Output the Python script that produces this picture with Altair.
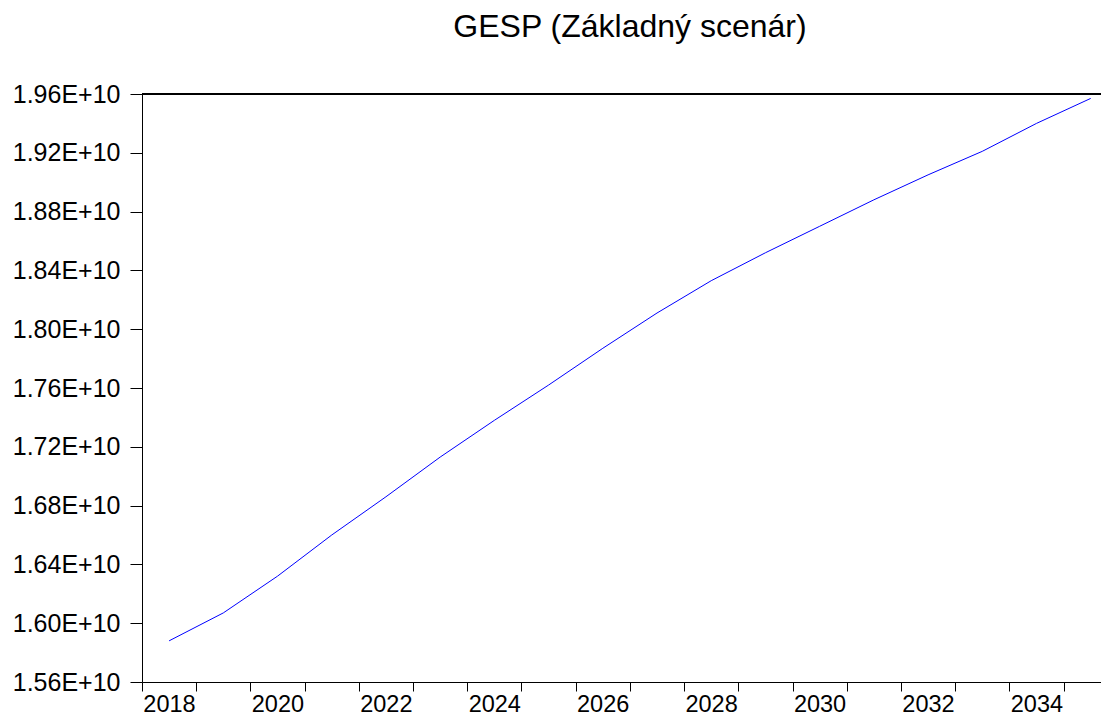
import altair as alt
import pandas as pd

# Data
years = [2018, 2019, 2020, 2021, 2022, 2023, 2024, 2025, 2026,
         2027, 2028, 2029, 2030, 2031, 2032, 2033, 2034, 2035]
gesp = [1.588e10, 1.607e10, 1.632e10, 1.660e10, 1.686e10, 1.713e10,
        1.738e10, 1.762e10, 1.787e10, 1.811e10, 1.833e10, 1.852e10,
        1.870e10, 1.888e10, 1.905e10, 1.921e10, 1.940e10, 1.957e10]

# Axis tick values
y_ticks = [1.56e10, 1.60e10, 1.64e10, 1.68e10, 1.72e10, 1.76e10,
           1.80e10, 1.84e10, 1.88e10, 1.92e10, 1.96e10]
x_tick_bounds = [2017.5, 2018.5, 2019.5, 2020.5, 2021.5, 2022.5, 2023.5,
                 2024.5, 2025.5, 2026.5, 2027.5, 2028.5, 2029.5, 2030.5,
                 2031.5, 2032.5, 2033.5, 2034.5]

df = pd.DataFrame({"year": years, "gesp": gesp})

W = 959
H = 588
FONT = "Liberation Sans"

x_axis = alt.Axis(
    values=x_tick_bounds,
    labelExpr="(datum.value + 0.5) % 2 == 0 ? toString(datum.value + 0.5) : ''",
    labelOffset=27,
    labelFlush=False,
    labelOverlap=False,
    labelFont=FONT,
    labelFontSize=23.5,
    labelColor="black",
    labelPadding=1,
    tickSize=9,
    tickColor="black",
    domainColor="black",
    grid=False,
    title=None,
)

y_axis = alt.Axis(
    values=y_ticks,
    labelExpr="format(datum.value / 1e10, '.2f') + 'E+10'",
    labelFont=FONT,
    labelFontSize=25,
    labelColor="black",
    labelPadding=10,
    labelOverlap=False,
    labelFlush=False,
    tickSize=12,
    tickColor="black",
    domainColor="black",
    grid=False,
    title=None,
)

line = alt.Chart(df).mark_line(color="#0000ff", strokeWidth=1).encode(
    x=alt.X("year:Q", scale=alt.Scale(domain=[2017.5, 2035.19], nice=False, zero=False), axis=x_axis),
    y=alt.Y("gesp:Q", scale=alt.Scale(domain=[1.56e10, 1.96e10], nice=False, zero=False), axis=y_axis),
)

top_border = alt.Chart(df).mark_rule(color="black", strokeWidth=1).encode(
    x=alt.value(0), x2=alt.value(W), y=alt.value(0)
)

chart = alt.layer(line, top_border).properties(
    width=W,
    height=H,
    title=alt.Title(
        "GESP (Základný scenár)",
        font=FONT,
        fontSize=32,
        fontWeight="normal",
        color="black",
        anchor="middle",
        frame="group",
        baseline="alphabetic",
        offset=13,
        dx=8.5,
    ),
    autosize=alt.AutoSizeParams(type="none"),
    padding={"left": 134, "top": 86, "right": 0, "bottom": 34},
).configure_view(strokeWidth=0).configure(background="white")

chart.save("out.html", embed_options={"renderer": "svg", "actions": False})
